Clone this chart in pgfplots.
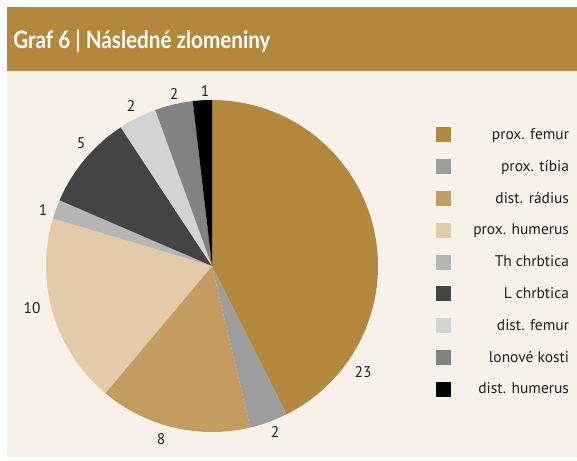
\documentclass[border=0pt]{standalone}
\usepackage{pgfplots}
\pgfplotsset{compat=1.18}
\usepackage{fontspec}
\setmainfont{PT Sans}
\newfontfamily\titlefont[FakeStretch=0.86]{Lato}
\definecolor{bgcream}{HTML}{F8F1EA}
\definecolor{titlebar}{HTML}{B3873C}
\definecolor{c1}{HTML}{B3873C}
\definecolor{c2}{HTML}{9D9D9D}
\definecolor{c3}{HTML}{C49C5F}
\definecolor{c4}{HTML}{E3CBAA}
\definecolor{c5}{HTML}{B5B5B5}
\definecolor{c6}{HTML}{444444}
\definecolor{c7}{HTML}{D3D3D3}
\definecolor{c8}{HTML}{828282}
\definecolor{c9}{HTML}{000000}
\definecolor{txt}{HTML}{231F20}
\def\total{54}
\xdef\cum{0}
\newcommand{\slice}[2]{%
  \pgfmathsetmacro\angA{90-360*(\cum/\total)}%
  \pgfmathsetmacro\cumnew{\cum+#1}%
  \pgfmathsetmacro\angB{90-360*(\cumnew/\total)}%
  \xdef\cum{\cumnew}%
  \addplot[fill=#2, draw=none, forget plot, domain=\angB:\angA, samples=80]
    ({212+166*cos(x)},{194+166*sin(x)}) -- (axis cs:212,194) -- cycle;
}
\begin{document}
\begin{tikzpicture}
\begin{axis}[scale only axis, width=432.75pt, height=345pt,
  xmin=0, xmax=577, ymin=0, ymax=460, hide axis, clip=false,
  legend image code/.code={\fill[#1] (0pt,-5.625pt) rectangle (11.25pt,5.625pt);},
  legend cell align=left,
  legend style={at={(axis cs:436,341)}, anchor=north west, draw=none, fill=none,
    inner sep=0pt, outer sep=0pt, row sep=0pt,
    nodes={inner sep=0pt, minimum height=23.85pt, text=txt,
      font=\fontsize{11.6pt}{13pt}\selectfont}},
]
\fill[white] (axis cs:0,0) rectangle (axis cs:577,460);
\fill[bgcream] (axis cs:7,3) rectangle (axis cs:577,453);
\fill[titlebar] (axis cs:7,389) rectangle (axis cs:577,453);
\node[anchor=base west, inner sep=0pt, text=white, font=\titlefont\bfseries\fontsize{18pt}{20pt}\selectfont]
  at (axis cs:13,411) {Graf 6 | Následné zlomeniny};

\slice{23}{c1}
\slice{2}{c2}
\slice{8}{c3}
\slice{10}{c4}
\slice{1}{c5}
\slice{5}{c6}
\slice{2}{c7}
\slice{2}{c8}
\slice{1}{c9}

\addlegendimage{fill=c1, draw=none}\addlegendentry{\makebox[88.5pt][r]{prox. femur}}
\addlegendimage{fill=c2, draw=none}\addlegendentry{\makebox[88.5pt][r]{prox. tíbia}}
\addlegendimage{fill=c3, draw=none}\addlegendentry{\makebox[88.5pt][r]{dist. rádius}}
\addlegendimage{fill=c4, draw=none}\addlegendentry{\makebox[88.5pt][r]{prox. humerus}}
\addlegendimage{fill=c5, draw=none}\addlegendentry{\makebox[88.5pt][r]{Th chrbtica}}
\addlegendimage{fill=c6, draw=none}\addlegendentry{\makebox[88.5pt][r]{L chrbtica}}
\addlegendimage{fill=c7, draw=none}\addlegendentry{\makebox[88.5pt][r]{dist. femur}}
\addlegendimage{fill=c8, draw=none}\addlegendentry{\makebox[88.5pt][r]{lonové kosti}}
\addlegendimage{fill=c9, draw=none}\addlegendentry{\makebox[88.5pt][r]{dist. humerus}}

\begin{scope}[every node/.style={text=txt, font=\fontsize{11.6pt}{13pt}\selectfont}]
\node at (axis cs:363,87.5) {23};
\node at (axis cs:275,28.5) {2};
\node at (axis cs:161,21) {8};
\node at (axis cs:32,152) {10};
\node at (axis cs:43,250) {1};
\node at (axis cs:81,317) {5};
\node at (axis cs:131,354) {2};
\node at (axis cs:174,366) {2};
\node at (axis cs:205,369) {1};
\end{scope}
\end{axis}
\end{tikzpicture}
\end{document}
